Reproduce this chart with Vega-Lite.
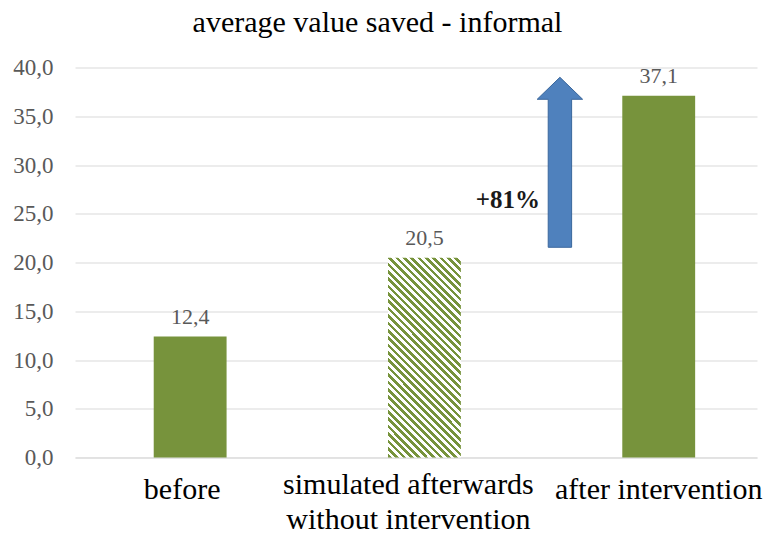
{
  "$schema": "https://vega.github.io/schema/vega-lite/v6.json",
  "width": 682,
  "height": 390,
  "autosize": "none",
  "padding": {"left": 75, "top": 67.5, "right": 10, "bottom": 77.5},
  "background": "white",
  "config": {
    "locale": {"number": {"decimal": ",", "thousands": ".", "grouping": [3], "currency": ["", " €"]}},
    "view": {"stroke": null},
    "font": "'Liberation Serif', 'Times New Roman', 'DejaVu Serif', serif"
  },
  "title": {
    "text": "average value saved - informal",
    "font": "'Liberation Serif', 'Times New Roman', 'DejaVu Serif', serif",
    "fontSize": 30,
    "fontWeight": "normal",
    "color": "#000000",
    "anchor": "middle",
    "baseline": "alphabetic",
    "offset": 23,
    "dx": -38.5,
    "dy": 28
  },
  "datasets": {
    "bars": [
      {"category": "before", "value": 12.4, "kind": "solid"},
      {"category": "simulated afterwards without intervention", "value": 20.5, "kind": "hatched"},
      {"category": "after intervention", "value": 37.1, "kind": "solid"}
    ],
    "arrow": [
      {"category": "after intervention", "from": 21.56, "label": "+81%", "labelAt": 26.4}
    ]
  },
  "encoding": {
    "x": {
      "field": "category",
      "type": "nominal",
      "sort": null,
      "scale": {
        "domain": ["before", "simulated afterwards without intervention", "after intervention"],
        "paddingInner": 0.689,
        "paddingOuter": 0.3,
        "align": 0.56
      },
      "axis": {
        "title": null,
        "labelAngle": 0,
        "labelFont": "'Liberation Serif', 'Times New Roman', 'DejaVu Serif', serif",
        "labelFontSize": 30,
        "labelColor": "#000000",
        "labelBaseline": "top",
        "labelPadding": {"condition": {"test": "datum.value == 'simulated afterwards without intervention'", "value": 12}, "value": 17},
        "labelOffset": {"condition": [
          {"test": "datum.value == 'before'", "value": -8},
          {"test": "datum.value == 'simulated afterwards without intervention'", "value": -16}
        ], "value": 0},
        "labelLineHeight": 35,
        "labelLimit": 0,
        "labelExpr": "datum.label == 'simulated afterwards without intervention' ? ['simulated afterwards', 'without  intervention'] : datum.label",
        "ticks": false,
        "domainColor": "#d9d9d9",
        "domainWidth": 1,
        "grid": false
      }
    }
  },
  "layer": [
    {
      "data": {"name": "bars"},
      "transform": [{"filter": "datum.kind == 'solid'"}],
      "mark": {"type": "bar", "fill": "#77933C"},
      "encoding": {
        "y": {
          "field": "value",
          "type": "quantitative",
          "scale": {"domain": [0, 40], "nice": false},
          "axis": {
            "title": null,
            "values": [0, 5, 10, 15, 20, 25, 30, 35, 40],
            "format": ".1f",
            "labelFont": "'Liberation Serif', 'Times New Roman', 'DejaVu Serif', serif",
            "labelFontSize": 23,
            "labelColor": "#595959",
            "labelPadding": 22,
            "ticks": false,
            "domain": false,
            "gridColor": "#d9d9d9",
            "gridWidth": 1
          }
        }
      }
    },
    {
      "data": {"name": "bars"},
      "transform": [{"filter": "datum.kind == 'hatched'"}],
      "mark": {
        "type": "bar",
        "fill": {
          "gradient": "linear",
          "x1": 0, "y1": 1, "x2": 0.44, "y2": -0.205,
          "stops": [
            {"offset": 0.0, "color": "#77933C"}, {"offset": 0.0135, "color": "#77933C"}, {"offset": 0.0135, "color": "#ffffff"}, {"offset": 0.0270, "color": "#ffffff"},
            {"offset": 0.0270, "color": "#77933C"}, {"offset": 0.0405, "color": "#77933C"}, {"offset": 0.0405, "color": "#ffffff"}, {"offset": 0.0541, "color": "#ffffff"},
            {"offset": 0.0541, "color": "#77933C"}, {"offset": 0.0676, "color": "#77933C"}, {"offset": 0.0676, "color": "#ffffff"}, {"offset": 0.0811, "color": "#ffffff"},
            {"offset": 0.0811, "color": "#77933C"}, {"offset": 0.0946, "color": "#77933C"}, {"offset": 0.0946, "color": "#ffffff"}, {"offset": 0.1081, "color": "#ffffff"},
            {"offset": 0.1081, "color": "#77933C"}, {"offset": 0.1216, "color": "#77933C"}, {"offset": 0.1216, "color": "#ffffff"}, {"offset": 0.1351, "color": "#ffffff"},
            {"offset": 0.1351, "color": "#77933C"}, {"offset": 0.1486, "color": "#77933C"}, {"offset": 0.1486, "color": "#ffffff"}, {"offset": 0.1622, "color": "#ffffff"},
            {"offset": 0.1622, "color": "#77933C"}, {"offset": 0.1757, "color": "#77933C"}, {"offset": 0.1757, "color": "#ffffff"}, {"offset": 0.1892, "color": "#ffffff"},
            {"offset": 0.1892, "color": "#77933C"}, {"offset": 0.2027, "color": "#77933C"}, {"offset": 0.2027, "color": "#ffffff"}, {"offset": 0.2162, "color": "#ffffff"},
            {"offset": 0.2162, "color": "#77933C"}, {"offset": 0.2297, "color": "#77933C"}, {"offset": 0.2297, "color": "#ffffff"}, {"offset": 0.2432, "color": "#ffffff"},
            {"offset": 0.2432, "color": "#77933C"}, {"offset": 0.2568, "color": "#77933C"}, {"offset": 0.2568, "color": "#ffffff"}, {"offset": 0.2703, "color": "#ffffff"},
            {"offset": 0.2703, "color": "#77933C"}, {"offset": 0.2838, "color": "#77933C"}, {"offset": 0.2838, "color": "#ffffff"}, {"offset": 0.2973, "color": "#ffffff"},
            {"offset": 0.2973, "color": "#77933C"}, {"offset": 0.3108, "color": "#77933C"}, {"offset": 0.3108, "color": "#ffffff"}, {"offset": 0.3243, "color": "#ffffff"},
            {"offset": 0.3243, "color": "#77933C"}, {"offset": 0.3378, "color": "#77933C"}, {"offset": 0.3378, "color": "#ffffff"}, {"offset": 0.3514, "color": "#ffffff"},
            {"offset": 0.3514, "color": "#77933C"}, {"offset": 0.3649, "color": "#77933C"}, {"offset": 0.3649, "color": "#ffffff"}, {"offset": 0.3784, "color": "#ffffff"},
            {"offset": 0.3784, "color": "#77933C"}, {"offset": 0.3919, "color": "#77933C"}, {"offset": 0.3919, "color": "#ffffff"}, {"offset": 0.4054, "color": "#ffffff"},
            {"offset": 0.4054, "color": "#77933C"}, {"offset": 0.4189, "color": "#77933C"}, {"offset": 0.4189, "color": "#ffffff"}, {"offset": 0.4324, "color": "#ffffff"},
            {"offset": 0.4324, "color": "#77933C"}, {"offset": 0.4459, "color": "#77933C"}, {"offset": 0.4459, "color": "#ffffff"}, {"offset": 0.4595, "color": "#ffffff"},
            {"offset": 0.4595, "color": "#77933C"}, {"offset": 0.4730, "color": "#77933C"}, {"offset": 0.4730, "color": "#ffffff"}, {"offset": 0.4865, "color": "#ffffff"},
            {"offset": 0.4865, "color": "#77933C"}, {"offset": 0.5000, "color": "#77933C"}, {"offset": 0.5000, "color": "#ffffff"}, {"offset": 0.5135, "color": "#ffffff"},
            {"offset": 0.5135, "color": "#77933C"}, {"offset": 0.5270, "color": "#77933C"}, {"offset": 0.5270, "color": "#ffffff"}, {"offset": 0.5405, "color": "#ffffff"},
            {"offset": 0.5405, "color": "#77933C"}, {"offset": 0.5541, "color": "#77933C"}, {"offset": 0.5541, "color": "#ffffff"}, {"offset": 0.5676, "color": "#ffffff"},
            {"offset": 0.5676, "color": "#77933C"}, {"offset": 0.5811, "color": "#77933C"}, {"offset": 0.5811, "color": "#ffffff"}, {"offset": 0.5946, "color": "#ffffff"},
            {"offset": 0.5946, "color": "#77933C"}, {"offset": 0.6081, "color": "#77933C"}, {"offset": 0.6081, "color": "#ffffff"}, {"offset": 0.6216, "color": "#ffffff"},
            {"offset": 0.6216, "color": "#77933C"}, {"offset": 0.6351, "color": "#77933C"}, {"offset": 0.6351, "color": "#ffffff"}, {"offset": 0.6486, "color": "#ffffff"},
            {"offset": 0.6486, "color": "#77933C"}, {"offset": 0.6622, "color": "#77933C"}, {"offset": 0.6622, "color": "#ffffff"}, {"offset": 0.6757, "color": "#ffffff"},
            {"offset": 0.6757, "color": "#77933C"}, {"offset": 0.6892, "color": "#77933C"}, {"offset": 0.6892, "color": "#ffffff"}, {"offset": 0.7027, "color": "#ffffff"},
            {"offset": 0.7027, "color": "#77933C"}, {"offset": 0.7162, "color": "#77933C"}, {"offset": 0.7162, "color": "#ffffff"}, {"offset": 0.7297, "color": "#ffffff"},
            {"offset": 0.7297, "color": "#77933C"}, {"offset": 0.7432, "color": "#77933C"}, {"offset": 0.7432, "color": "#ffffff"}, {"offset": 0.7568, "color": "#ffffff"},
            {"offset": 0.7568, "color": "#77933C"}, {"offset": 0.7703, "color": "#77933C"}, {"offset": 0.7703, "color": "#ffffff"}, {"offset": 0.7838, "color": "#ffffff"},
            {"offset": 0.7838, "color": "#77933C"}, {"offset": 0.7973, "color": "#77933C"}, {"offset": 0.7973, "color": "#ffffff"}, {"offset": 0.8108, "color": "#ffffff"},
            {"offset": 0.8108, "color": "#77933C"}, {"offset": 0.8243, "color": "#77933C"}, {"offset": 0.8243, "color": "#ffffff"}, {"offset": 0.8378, "color": "#ffffff"},
            {"offset": 0.8378, "color": "#77933C"}, {"offset": 0.8514, "color": "#77933C"}, {"offset": 0.8514, "color": "#ffffff"}, {"offset": 0.8649, "color": "#ffffff"},
            {"offset": 0.8649, "color": "#77933C"}, {"offset": 0.8784, "color": "#77933C"}, {"offset": 0.8784, "color": "#ffffff"}, {"offset": 0.8919, "color": "#ffffff"},
            {"offset": 0.8919, "color": "#77933C"}, {"offset": 0.9054, "color": "#77933C"}, {"offset": 0.9054, "color": "#ffffff"}, {"offset": 0.9189, "color": "#ffffff"},
            {"offset": 0.9189, "color": "#77933C"}, {"offset": 0.9324, "color": "#77933C"}, {"offset": 0.9324, "color": "#ffffff"}, {"offset": 0.9459, "color": "#ffffff"},
            {"offset": 0.9459, "color": "#77933C"}, {"offset": 0.9595, "color": "#77933C"}, {"offset": 0.9595, "color": "#ffffff"}, {"offset": 0.9730, "color": "#ffffff"},
            {"offset": 0.9730, "color": "#77933C"}, {"offset": 0.9865, "color": "#77933C"}, {"offset": 0.9865, "color": "#ffffff"}, {"offset": 1.0, "color": "#ffffff"}
          ]
        }
      },
      "encoding": {
        "y": {"field": "value", "type": "quantitative"}
      }
    },
    {
      "data": {"name": "bars"},
      "mark": {"type": "text", "baseline": "alphabetic", "dy": -13, "font": "'Liberation Serif', 'Times New Roman', 'DejaVu Serif', serif", "fontSize": 22, "fill": "#595959"},
      "encoding": {
        "y": {"field": "value", "type": "quantitative"},
        "text": {"field": "value", "type": "quantitative", "format": ".1f"}
      }
    },
    {
      "data": {"name": "arrow"},
      "mark": {
        "type": "point",
        "shape": "M -1.17 0 L -1.17 -14.8 L -2.27 -14.8 L 0 -17 L 2.27 -14.8 L 1.17 -14.8 L 1.17 0 Z",
        "size": 400,
        "filled": true,
        "fill": "#4F81BD",
        "stroke": "#3A679C",
        "strokeWidth": 1,
        "opacity": 1
      },
      "encoding": {
        "x": {"field": "category", "type": "nominal", "bandPosition": -0.856},
        "y": {"field": "from", "type": "quantitative"}
      }
    },
    {
      "data": {"name": "arrow"},
      "mark": {"type": "text", "align": "right", "baseline": "middle", "dx": -20, "font": "'Liberation Serif', 'Times New Roman', 'DejaVu Serif', serif", "fontSize": 25, "fontWeight": "bold", "fill": "#1a1a1a"},
      "encoding": {
        "x": {"field": "category", "type": "nominal", "bandPosition": -0.856},
        "y": {"field": "labelAt", "type": "quantitative"},
        "text": {"field": "label"}
      }
    }
  ]
}
